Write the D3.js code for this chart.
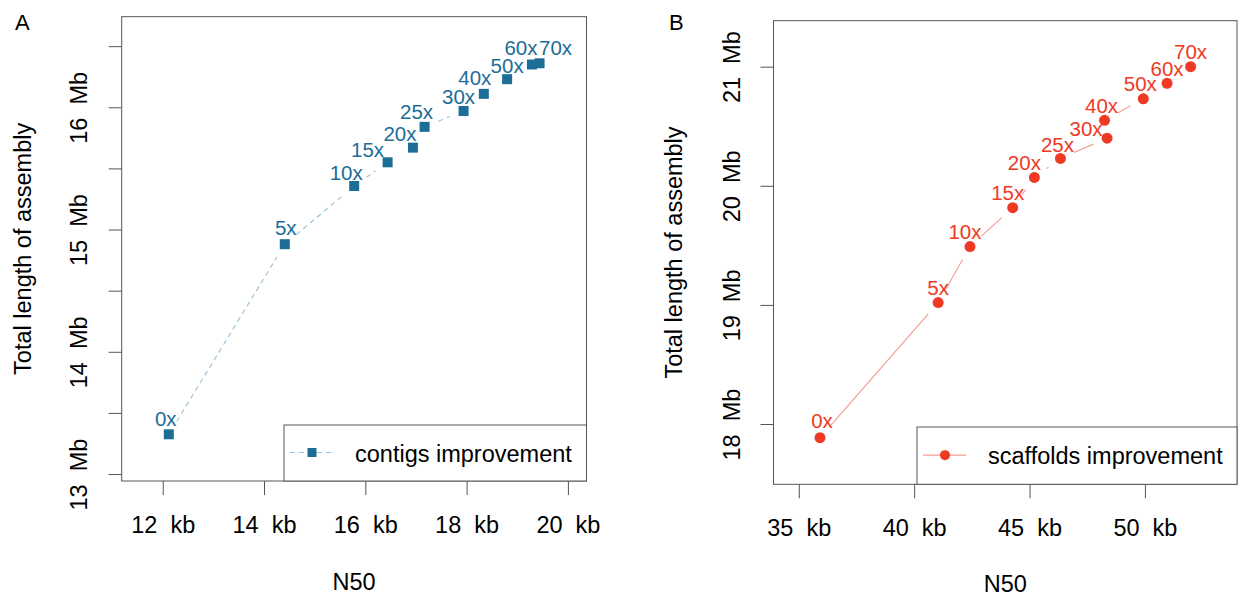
<!DOCTYPE html>
<html>
<head>
<meta charset="utf-8">
<script src="https://cdn.jsdelivr.net/npm/d3@7"></script>
<style>
  html, body { margin: 0; padding: 0; background: #ffffff; }
  svg { display: block; font-family: "Liberation Sans", Arial, Helvetica, sans-serif; }
  text { white-space: pre; }
</style>
</head>
<body>
<svg id="chart" width="1243" height="596"></svg>
<script>
// Sequencing coverage levels
const coverage = ["0x", "5x", "10x", "15x", "20x", "25x", "30x", "40x", "50x", "60x", "70x"];

// Contigs: N50 (kb) and total assembly length (Mb)
const contigN50   = [12.12, 14.41, 15.78, 16.44, 16.94, 17.17, 17.94, 18.34, 18.80, 19.29, 19.44];
const contigTotal = [13.325, 14.88, 15.356, 15.55, 15.67, 15.84, 15.97, 16.11, 16.23, 16.35, 16.36];

// Scaffolds: N50 (kb) and total assembly length (Mb)
const scaffoldN50   = [35.92, 41.04, 42.42, 44.27, 45.21, 46.34, 48.36, 48.25, 49.93, 50.96, 51.98];
const scaffoldTotal = [17.885, 19.02, 19.49, 19.816, 20.07, 20.23, 20.40, 20.55, 20.73, 20.86, 21.00];

// Axis limits and ticks
const contigXLim   = [11.19, 20.367];
const contigYLim   = [12.943, 16.741];
const contigXTicks = [12, 14, 16, 18, 20];
const contigYTicks = [13, 13.5, 14, 14.5, 15, 15.5, 16, 16.5];

const scaffoldXLim   = [33.904, 53.991];
const scaffoldYLim   = [17.494, 21.386];
const scaffoldXTicks = [35, 40, 45, 50];
const scaffoldYTicks = [18, 19, 20, 21];

const legendLabels = ["contigs improvement", "scaffolds improvement"];

// ---------------------------------------------------------------------------
const svg = d3.select("#chart");
const BASE_FONT = 23.5;
const LABEL_FONT = 20.5;
const FRAME = "#555555";

// small hand nudges (px) so crowded point labels do not collide
const nudgeContig = {"0x": [-3, -1], "5x": [1, -2], "10x": [-8, 1], "15x": [-20, 2], "20x": [-13, 1],
                     "25x": [-8, 0], "30x": [-5, 1], "40x": [-9, -1], "50x": [0, 1], "60x": [-11, -2], "70x": [16, -1]};
const nudgeScaffold = {"0x": [2, -2], "15x": [-5, 0], "20x": [-10, 0], "25x": [-3, 1], "30x": [-21, 5],
                       "40x": [-3, 0], "50x": [-3, 0], "10x": [-5, 0]};

const panels = [
  {
    letter: "A", box: {l: 121.7, r: 586.5, t: 16.7, b: 481},
    xs: contigN50, ys: contigTotal, xLim: contigXLim, yLim: contigYLim,
    xTicks: contigXTicks, yTicks: contigYTicks,
    color: "#1c6e97", lineColor: "#98c0d8", dash: "5,4", shape: "square",
    legend: legendLabels[0], legendBox: {l: 284, t: 425}, nudge: nudgeContig,
    letterX: 15, yTitleX: 31, ytickBase: -35, titleY: 590
  },
  {
    letter: "B", box: {l: 773.5, r: 1237, t: 20.7, b: 484.3},
    xs: scaffoldN50, ys: scaffoldTotal, xLim: scaffoldXLim, yLim: scaffoldYLim,
    xTicks: scaffoldXTicks, yTicks: scaffoldYTicks,
    color: "#ee3a24", lineColor: "#f49c90", dash: null, shape: "circle",
    legend: legendLabels[1], legendBox: {l: 917, t: 427}, nudge: nudgeScaffold,
    letterX: 669, yTitleX: 682, ytickBase: -34, titleY: 591.5
  }
];

function drawMarker(g, shape, cx, cy, color, size) {
  if (shape === "square") {
    g.append("rect")
      .attr("x", cx - size / 2).attr("y", cy - size / 2)
      .attr("width", size).attr("height", size)
      .attr("fill", color);
  } else {
    g.append("circle")
      .attr("cx", cx).attr("cy", cy).attr("r", size / 2 + 0.5)
      .attr("fill", color);
  }
}

panels.forEach(p => {
  const {box} = p;
  const x = d3.scaleLinear().domain(p.xLim).range([box.l, box.r]);
  const y = d3.scaleLinear().domain(p.yLim).range([box.b, box.t]);
  const g = svg.append("g");

  // panel letter
  g.append("text").attr("x", p.letterX).attr("y", 30)
    .attr("font-size", 22).attr("fill", "#000").text(p.letter);

  // x axis
  const xAxis = g.append("g").attr("transform", `translate(0,${box.b})`)
    .call(d3.axisBottom(x).tickValues(p.xTicks).tickSize(14)
      .tickFormat(d => d + "  kb"));
  xAxis.select(".domain").remove();
  xAxis.selectAll(".tick line").attr("stroke", FRAME);
  xAxis.selectAll(".tick text")
    .attr("y", 52).attr("dy", null)
    .attr("font-size", BASE_FONT).attr("fill", "#000");
  xAxis.attr("font-family", null);

  // y axis with rotated labels at whole Mb
  const yAxis = g.append("g").attr("transform", `translate(${box.l},0)`)
    .call(d3.axisLeft(y).tickValues(p.yTicks).tickSize(13)
      .tickFormat(d => Number.isInteger(d) ? d + "  Mb" : ""));
  yAxis.select(".domain").remove();
  yAxis.attr("font-family", null);
  yAxis.selectAll(".tick line").attr("stroke", FRAME);
  yAxis.selectAll(".tick text")
    .attr("transform", "rotate(-90)")
    .attr("x", 0).attr("y", p.ytickBase).attr("dy", null)
    .attr("text-anchor", "middle")
    .attr("font-size", BASE_FONT).attr("fill", "#000");

  // axis titles
  g.append("text")
    .attr("transform", `translate(${p.yTitleX},${(box.t + box.b) / 2}) rotate(-90)`)
    .attr("text-anchor", "middle").attr("font-size", BASE_FONT).attr("fill", "#000")
    .text("Total length of assembly");
  g.append("text")
    .attr("x", (box.l + box.r) / 2).attr("y", p.titleY)
    .attr("text-anchor", "middle").attr("font-size", BASE_FONT).attr("fill", "#000")
    .text("N50");

  // connecting line, broken around each point
  const pts = p.xs.map((v, i) => [x(v), y(p.ys[i])]);
  const gap = 15;
  for (let i = 0; i < pts.length - 1; i++) {
    const [x0, y0] = pts[i], [x1, y1] = pts[i + 1];
    const len = Math.hypot(x1 - x0, y1 - y0);
    if (len <= 2 * gap) continue;
    const ux = (x1 - x0) / len, uy = (y1 - y0) / len;
    g.append("line")
      .attr("x1", x0 + ux * gap).attr("y1", y0 + uy * gap)
      .attr("x2", x1 - ux * gap).attr("y2", y1 - uy * gap)
      .attr("stroke", p.lineColor).attr("stroke-width", 1.1)
      .attr("stroke-dasharray", p.dash);
  }

  // points
  pts.forEach(([cx, cy]) => drawMarker(g, p.shape, cx, cy, p.color, 10));

  // coverage labels
  pts.forEach(([cx, cy], i) => {
    const n = p.nudge[coverage[i]] || [0, 0];
    g.append("text")
      .attr("x", cx + n[0]).attr("y", cy - 7.5 + n[1])
      .attr("text-anchor", "middle").attr("font-size", LABEL_FONT)
      .attr("fill", p.color).text(coverage[i]);
  });

  // frame
  g.append("rect")
    .attr("x", box.l).attr("y", box.t)
    .attr("width", box.r - box.l).attr("height", box.b - box.t)
    .attr("fill", "none").attr("stroke", FRAME).attr("stroke-width", 1);

  // legend
  const lb = p.legendBox;
  g.append("rect")
    .attr("x", lb.l).attr("y", lb.t)
    .attr("width", box.r - lb.l).attr("height", box.b - lb.t)
    .attr("fill", "#fff").attr("stroke", FRAME).attr("stroke-width", 1);
  const ly = lb.t + (box.b - lb.t) / 2 - 0.5;
  g.append("line")
    .attr("x1", lb.l + 6).attr("x2", lb.l + 49)
    .attr("y1", ly).attr("y2", ly)
    .attr("stroke", p.lineColor).attr("stroke-width", 1.1)
    .attr("stroke-dasharray", p.dash);
  drawMarker(g, p.shape, lb.l + 28, ly, p.color, 9);
  g.append("text")
    .attr("x", lb.l + 71).attr("y", ly + 9.2)
    .attr("font-size", BASE_FONT).attr("fill", "#000")
    .text(p.legend);
});
</script>
</body>
</html>
